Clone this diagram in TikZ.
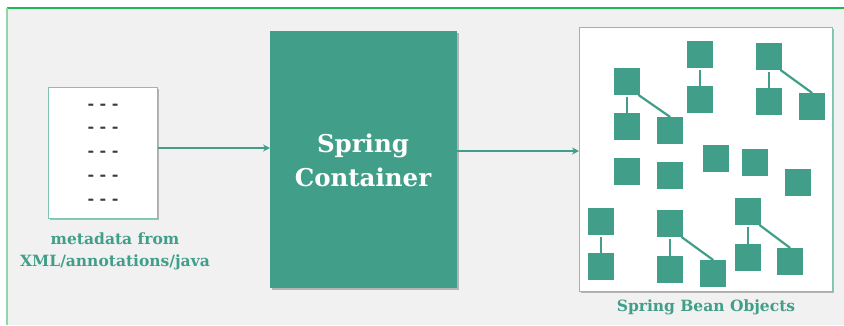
\documentclass[tikz,border=0pt]{standalone}
\usepackage{fontspec}
\setmainfont{DejaVu Serif}
\usetikzlibrary{shadows,arrows.meta}
\definecolor{teal1}{HTML}{419F89}
\definecolor{tealborder}{HTML}{7FC4B2}
\definecolor{bggray}{HTML}{F1F1F1}
\definecolor{framegreen}{HTML}{1DB954}
\definecolor{framelight}{HTML}{8ED9A9}
\definecolor{dashgray}{HTML}{3A3A3A}
\tikzset{
  shd/.style={drop shadow={shadow xshift=1.5pt,shadow yshift=-1.5pt,opacity=0.25,fill=black}},
  whitebox/.style={draw=tealborder,line width=1.4pt,fill=white,shd},
  bean/.style={fill=teal1,draw=none,minimum width=26pt,minimum height=26.5pt,inner sep=0pt,anchor=north west},
  link/.style={draw=teal1,line width=2.2pt},
  flow/.style={draw=teal1,line width=1.8pt,-{Stealth[length=7pt,width=7pt]}},
  lbl/.style={text=teal1,font=\bfseries\fontsize{15.5}{22}\selectfont,align=center},
  dsh/.style={text=dashgray,font=\bfseries\fontsize{16}{16}\selectfont}
}
\begin{document}
\begin{tikzpicture}[x=1pt,y=-1pt]
\useasboundingbox (0,0) rectangle (844,325);
\fill[white] (0,0) rectangle (844,325);
\fill[bggray] (7,8) rectangle (844,325);
\draw[framegreen,line width=1.4pt] (7,8) -- (844,8);
\draw[framelight,line width=2pt] (7,8) -- (7,325);
% metadata box
\node[whitebox,minimum width=109pt,minimum height=131pt,inner sep=0pt,anchor=north west] (meta) at (48,87) {};
\foreach \yy [count=\i] in {107,130,154,178,202}
  \node[dsh] (d\i) at (103,\yy) {-\hspace{5.5pt}-\hspace{5.5pt}-};
\node[lbl] (metalbl) at (115,251) {metadata from\\XML/annotations/java};
% container
\node[fill=teal1,shd,minimum width=187pt,minimum height=257pt,inner sep=0pt,anchor=north west] (cont) at (270,31) {};
\node[text=white,font=\bfseries\fontsize{24.5}{34}\selectfont,align=center] (contlbl) at (363,160) {Spring\\Container};
% beans box
\node[whitebox,minimum width=253pt,minimum height=264pt,inner sep=0pt,anchor=north west] (beans) at (579,27) {};
\node[lbl] (beanlbl) at (706,307) {Spring Bean Objects};
% flows
\draw[flow] (meta.east |- 0,148) -- (cont.west |- 0,148);
\draw[flow] (cont.east |- 0,151) -- (beans.west |- 0,151);
% beans
\node[bean] (b1) at (614,68) {};
\node[bean] (b2) at (614,113) {};
\node[bean] (b3) at (657,117) {};
\node[bean] (b4) at (687,41) {};
\node[bean] (b5) at (687,86) {};
\node[bean] (b6) at (756,43) {};
\node[bean] (b7) at (756,88) {};
\node[bean] (b8) at (799,93) {};
\node[bean] (b9) at (614,158) {};
\node[bean] (b10) at (657,162) {};
\node[bean] (b11) at (703,145) {};
\node[bean] (b12) at (742,149) {};
\node[bean] (b13) at (785,169) {};
\node[bean] (b14) at (588,208) {};
\node[bean] (b15) at (588,253) {};
\node[bean] (b16) at (657,210) {};
\node[bean] (b17) at (657,256) {};
\node[bean] (b18) at (700,260) {};
\node[bean] (b19) at (735,198) {};
\node[bean] (b20) at (735,244) {};
\node[bean] (b21) at (777,248) {};
% links
\foreach \p/\c in {1/2,4/5,6/7,14/15,16/17,19/20}
  \draw[link] ([yshift=-2pt]b\p.south) -- (b\c.north);
\foreach \p/\c in {1/3,6/8,16/18,19/21}
  \draw[link] ([xshift=-2pt]b\p.south east) -- (b\c.north);
\end{tikzpicture}
\end{document}
